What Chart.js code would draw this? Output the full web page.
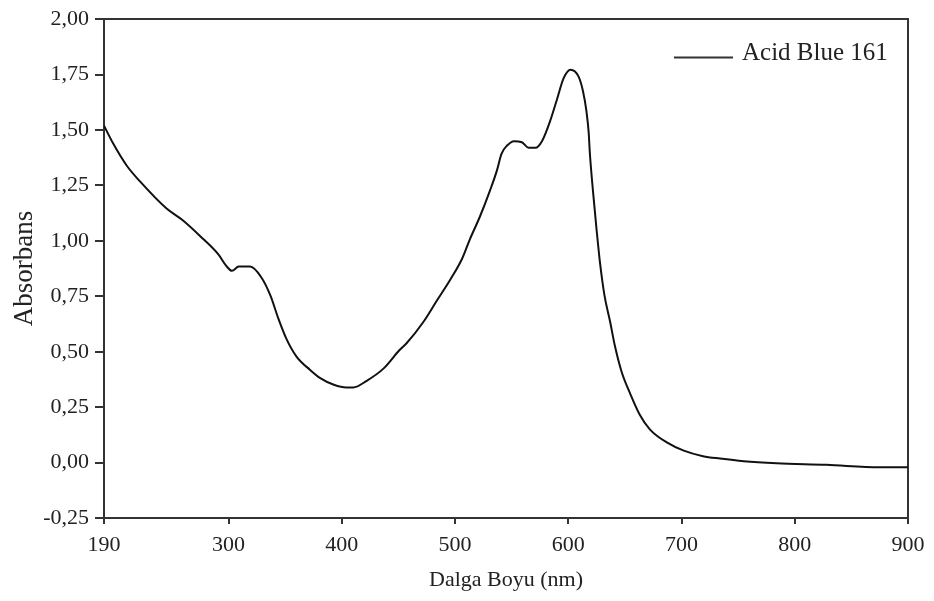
<!DOCTYPE html>
<html>
<head>
<meta charset="utf-8">
<title>Acid Blue 161</title>
<script src="https://cdn.jsdelivr.net/npm/chart.js@4.4.1/dist/chart.umd.min.js"></script>
<style>
	body { margin: 0; background: #fff; }
	#canvas1 { display: block; }
</style>
</head>
<body>
<canvas id="canvas1" width="934" height="601"></canvas>
<script>
/* Spectrum */
/////////////////////////////////////////////////////////////////
const seriesName = 'Acid Blue 161';
const wavelength = [190, 198, 210, 222, 245, 259, 275, 291, 298, 303, 309, 319, 329, 337, 344,
	351, 360, 372, 381, 393, 404, 410, 422, 437, 451, 457, 472, 484, 496, 506, 513, 522, 531,
	537, 541, 546, 552, 559, 565, 571, 577, 584, 590, 596, 602, 609, 613, 616, 618, 619, 622,
	625, 628, 632, 637, 641, 647, 655, 663, 672, 687, 702, 719, 734, 755, 784, 828, 875, 900];
const absorbance = [1.52, 1.44, 1.34, 1.267, 1.147, 1.095, 1.021, 0.939, 0.887, 0.865, 0.884,
	0.884, 0.835, 0.753, 0.649, 0.559, 0.478, 0.418, 0.381, 0.351, 0.339, 0.339, 0.369, 0.425,
	0.508, 0.537, 0.634, 0.731, 0.827, 0.917, 1.006, 1.110, 1.229, 1.318, 1.393, 1.430, 1.450,
	1.445, 1.420, 1.420, 1.452, 1.541, 1.638, 1.735, 1.772, 1.742, 1.675, 1.586, 1.490, 1.40,
	1.214, 1.050, 0.902, 0.753, 0.634, 0.530, 0.411, 0.307, 0.217, 0.150, 0.091, 0.054, 0.029,
	0.018, 0.006, -0.003, -0.010, -0.021, -0.021];
const xTicks = [190, 300, 400, 500, 600, 700, 800, 900];
const yMin = -0.25;
const yMax = 2.00;
const yStep = 0.25;
const xTitle = 'Dalga Boyu (nm)';
const yTitle = 'Absorbans';

const serif = "'Liberation Serif', 'Times New Roman', serif";
const ink = '#222';

let points = [];
for (let i = 0; i < wavelength.length; i++) {
	points.push({ x: wavelength[i], y: absorbance[i] });
}

/* Legend drawn inside the plot, top right */
/////////////////////////////////////////////////////////////////
const innerLegend = {
	id: 'innerLegend',
	afterDraw(chart) {
		const c = chart.ctx;
		const ds = chart.data.datasets[0];
		c.save();
		c.strokeStyle = '#333';
		c.lineWidth = 2;
		c.beginPath();
		c.moveTo(674, 57.5);
		c.lineTo(733, 57.5);
		c.stroke();
		c.fillStyle = ink;
		c.font = '25px ' + serif;
		c.textBaseline = 'alphabetic';
		c.fillText(ds.label, 742, 60);
		c.restore();
	}
};

/* Chart */
/////////////////////////////////////////////////////////////////
const ctx1 = document.getElementById('canvas1').getContext('2d');
const chart1 = new Chart(ctx1, {
	type: 'line',
	data: {
		datasets: [{
			label: seriesName,
			data: points,
			borderColor: '#111',
			borderWidth: 2,
			pointRadius: 0,
			fill: false,
			cubicInterpolationMode: 'monotone',
		}]
	},
	options: {
		responsive: false,
		animation: false,
		layout: { padding: { left: 0, top: 14, right: 26, bottom: 0 } },
		plugins: {
			legend: { display: false },
			tooltip: { enabled: false },
		},
		scales: {
			x: {
				type: 'linear',
				position: 'bottom',
				min: 190,
				max: 900,
				afterBuildTicks: (s) => { s.ticks = xTicks.map(v => ({ value: v })); },
				afterFit: (s) => { s.height = 83; },
				ticks: {
					color: ink,
					font: { family: serif, size: 22 },
					padding: 8,
					maxRotation: 0,
					autoSkip: false,
					callback: (v) => String(v),
				},
				grid: { drawOnChartArea: false, drawTicks: true, tickLength: 6, color: '#333', lineWidth: 2 },
				border: { display: true, color: '#333', width: 2 },
				title: {
					display: true,
					text: xTitle,
					color: ink,
					font: { family: serif, size: 22 },
					padding: { top: 0, bottom: 8 },
				},
			},
			y: {
				position: 'left',
				min: yMin,
				max: yMax,
				afterFit: (s) => { s.width = 104; },
				ticks: {
					stepSize: yStep,
					color: ink,
					font: { family: serif, size: 22 },
					padding: 6,
					callback: (v) => v.toFixed(2).replace('.', ','),
				},
				grid: { drawOnChartArea: false, drawTicks: true, tickLength: 9, color: '#333', lineWidth: 2 },
				border: { display: true, color: '#333', width: 2 },
				title: {
					display: true,
					text: yTitle,
					color: ink,
					font: { family: serif, size: 27 },
					padding: { top: 9, bottom: 0 },
				},
			},
			/* extra axes only used as the top and right frame */
			x2: {
				type: 'linear',
				position: 'top',
				afterFit: (s) => { s.height = 0; },
				ticks: { display: false },
				grid: { display: false, drawTicks: false },
				border: { display: true, color: '#333', width: 2 },
			},
			y2: {
				position: 'right',
				afterFit: (s) => { s.width = 0; },
				ticks: { display: false },
				grid: { display: false, drawTicks: false },
				border: { display: true, color: '#333', width: 2 },
			},
		}
	},
	plugins: [innerLegend]
});
</script>
</body>
</html>
